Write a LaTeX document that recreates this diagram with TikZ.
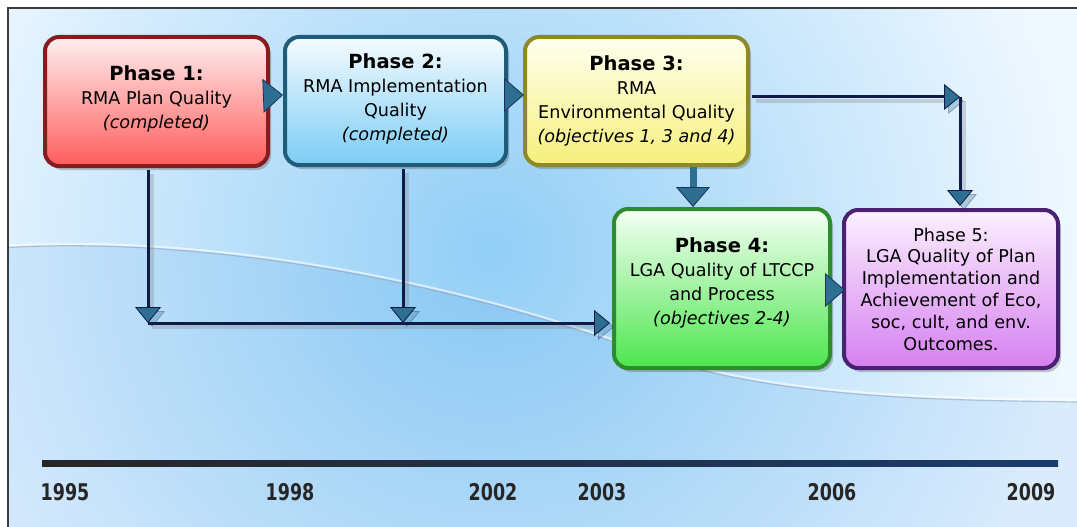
\documentclass[tikz,border=0pt]{standalone}
\usepackage{fontspec}
\setmainfont{DejaVu Sans}
\newfontfamily\yearfont[FakeStretch=0.76]{DejaVu Sans}
\usetikzlibrary{arrows.meta,shadows,calc}
\definecolor{navy}{RGB}{16,26,70}
\definecolor{tealc}{RGB}{45,110,145}
\definecolor{bgin}{RGB}{146,206,246}
\definecolor{bgout}{RGB}{240,248,255}
\definecolor{swoosh}{RGB}{60,150,230}
\definecolor{curvecol}{RGB}{140,165,195}
\definecolor{framecol}{RGB}{60,60,60}
\definecolor{redB}{RGB}{135,28,30}\definecolor{redT}{RGB}{255,240,240}\definecolor{redF}{RGB}{255,92,92}
\definecolor{bluB}{RGB}{30,92,120}\definecolor{bluT}{RGB}{245,251,255}\definecolor{bluF}{RGB}{124,204,244}
\definecolor{yelB}{RGB}{140,138,40}\definecolor{yelT}{RGB}{255,255,240}\definecolor{yelF}{RGB}{246,240,122}
\definecolor{grnB}{RGB}{46,139,46}\definecolor{grnT}{RGB}{245,255,245}\definecolor{grnF}{RGB}{77,230,77}
\definecolor{purB}{RGB}{74,32,112}\definecolor{purT}{RGB}{252,240,255}\definecolor{purF}{RGB}{213,128,240}
\tikzset{
  phase/.style={rounded corners=14pt, line width=4pt, inner sep=0pt,
    drop shadow={shadow xshift=3pt, shadow yshift=-4pt, opacity=0.3, fill=black!70}},
  phasetext/.style={align=center, inner sep=0pt, font=\fontsize{17.6}{24}\selectfont},
  conn/.style={draw=navy, line width=3pt,
    preaction={draw=black!50, opacity=0.3, line width=4pt, transform canvas={xshift=4pt,yshift=-4pt}},
    -{Triangle[width=26pt,length=16pt,fill=tealc,color=navy,line width=0.8pt]}},
  bigarrow/.style={draw=tealc, line width=7pt,
    -{Triangle[width=34pt,length=20pt,fill=tealc,color=navy!70!tealc,line width=0.8pt]}},
  year/.style={font=\yearfont\bfseries\fontsize{23}{26}\selectfont, text=black!85}
}
\newcommand{\hd}[1]{{\bfseries\fontsize{19.5}{24}\selectfont #1}}
\begin{document}
\begin{tikzpicture}[x=1pt,y=-1pt]
\useasboundingbox (0,0) rectangle (1077,527);
\fill[white] (0,0) rectangle (1077,527);
\begin{scope}
  \clip (8,8) rectangle (1077,527);
  \fill[bgout] (8,8) rectangle (1077,527);
  \shade[inner color=bgin, outer color=bgout] (490,250) circle (590);
  \fill[swoosh, opacity=0.12] (0,248) .. controls (200,235) and (450,280) .. (650,355)
     .. controls (780,400) and (950,400) .. (1077,402) -- (1077,527) -- (0,527) -- cycle;
  \draw[white, opacity=0.6, line width=2pt] (0,246) .. controls (200,233) and (450,278) .. (650,353)
     .. controls (780,398) and (950,398) .. (1077,400);
  \draw[curvecol, opacity=0.6, line width=1.2pt] (0,248) .. controls (200,235) and (450,280) .. (650,355)
     .. controls (780,400) and (950,400) .. (1077,402);
\end{scope}
\draw[framecol, line width=2pt] (8,527) -- (8,8) -- (1077,8);

% timeline
\shade[left color=black!85, right color={rgb,255:red,27;green,60;blue,108}] (42,460) rectangle (1058,466);
\node[year] (y1995) at (65,492) {1995};
\node[year] (y1998) at (290,492) {1998};
\node[year] (y2002) at (493,492) {2002};
\node[year] (y2003) at (602,492) {2003};
\node[year] (y2006) at (832,492) {2006};
\node[year] (y2009) at (1031,492) {2009};

% boxes
\node[phase, draw=redB, top color=redT, bottom color=redF, minimum width=223pt, minimum height=129pt] (p1) at (156.5,101.5) {};
\node[phase, draw=bluB, top color=bluT, bottom color=bluF, minimum width=221pt, minimum height=128pt] (p2) at (395.5,101) {};
\node[phase, draw=yelB, top color=yelT, bottom color=yelF, minimum width=223pt, minimum height=128pt] (p3) at (636.5,101) {};
\node[phase, draw=grnB, top color=grnT, bottom color=grnF, minimum width=216pt, minimum height=159pt] (p4) at (722,288.5) {};
\node[phase, draw=purB, top color=purT, bottom color=purF, minimum width=214pt, minimum height=158pt] (p5) at (951,289) {};

\node[phasetext] (t1) at (156.5,99) {\hd{Phase 1:}\\RMA Plan Quality\\\textit{(completed)}};
\node[phasetext] (t2) at (395.5,98.5) {\hd{Phase 2:}\\RMA Implementation\\Quality\\\textit{(completed)}};
\node[phasetext] (t3) at (636.5,100.5) {\hd{Phase 3:}\\RMA\\Environmental Quality\\\textit{(objectives 1, 3 and 4)}};
\node[phasetext] (t4) at (722,282.5) {\hd{Phase 4:}\\LGA Quality of LTCCP\\and Process\\\textit{(objectives 2-4)}};
\node[phasetext, font=\fontsize{17.6}{21.8}\selectfont] (t5) at (951,289)
  {Phase 5:\\LGA Quality of Plan\\Implementation and\\Achievement of Eco,\\soc, cult, and env.\\Outcomes.};

% connectors
\coordinate (j1) at (148,323);
\coordinate (j2) at (403,323);
\coordinate (k) at (960,97);
\draw[conn, shorten <=2pt] (p1.south -| j1) -- (j1);
\draw[conn, shorten <=2pt] (p2.south -| j2) -- (j2);
\draw[conn, shorten >=2pt] (j1) -- (p4.west |- j1);
\draw[conn, shorten <=2pt] (p3.east |- k) -- (k);
\draw[conn, shorten >=2pt] (k) -- (p5.north -| k);

% block arrows between boxes
\draw[bigarrow] ($(p1.east)+(0,-6)$) -- ($(p2.west)+(0,-6)$);
\draw[bigarrow, shorten >=-1pt] ($(p2.east)+(0,-6)$) -- ($(p3.west)+(0,-6)$);
\draw[bigarrow] ($(p3.south)+(56.5,0)$) -- ($(p4.north)+(-29,0)$);
\draw[bigarrow, shorten >=-3pt] ($(p4.east)+(0,1.5)$) -- ($(p5.west)+(0,1)$);
\end{tikzpicture}
\end{document}
